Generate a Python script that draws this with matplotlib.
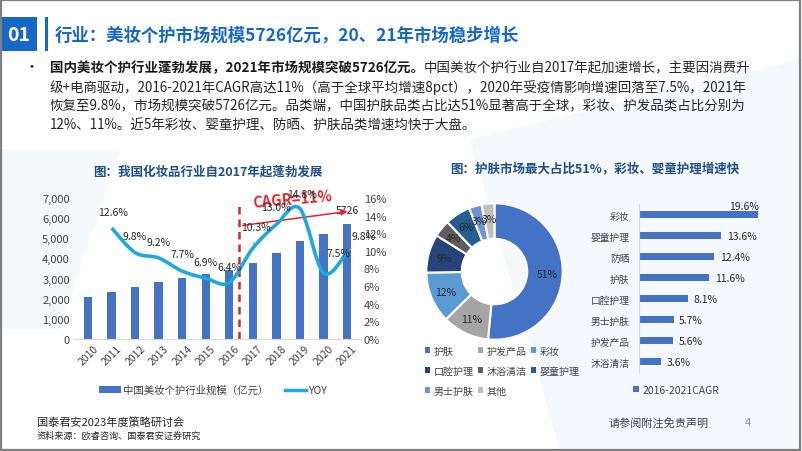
import numpy as np
import matplotlib
matplotlib.use("Agg")
import matplotlib.pyplot as plt
from matplotlib.path import Path
from matplotlib.patches import PathPatch, Patch, Rectangle, Polygon
from matplotlib.lines import Line2D

plt.rcParams['font.family'] = ['Noto Sans CJK SC', 'DejaVu Sans']
plt.rcParams['axes.unicode_minus'] = False

# 数据：左图 市场规模 + YOY
years = ['2010', '2011', '2012', '2013', '2014', '2015', '2016', '2017', '2018', '2019', '2020', '2021']
market_size = [2080, 2340, 2570, 2810, 3020, 3230, 3440, 3790, 4280, 4890, 5210, 5726]
yoy = [None, 12.6, 9.8, 9.2, 7.7, 6.9, 6.4, 10.3, 13.0, 14.8, 7.5, 9.8]

# 数据：中图 品类占比
pie_labels = ['护肤', '护发产品', '彩妆', '口腔护理', '沐浴清洁', '婴童护理', '男士护肤', '其他']
pie_values = [51, 11, 12, 9, 4, 6, 3, 3]
pie_colors = ['#4472c4', '#a5a5a5', '#5b9bd5', '#264478', '#5e5e5e', '#255e91', '#6f93d6', '#c0c0c0']

# 数据：右图 2016-2021 CAGR
cagr_cats = ['彩妆', '婴童护理', '防晒', '护肤', '口腔护理', '男士护肤', '护发产品', '沐浴清洁']
cagr_vals = [19.6, 13.6, 12.4, 11.6, 8.1, 5.7, 5.6, 3.6]

W, H = 802, 452
BLUE = '#4472c4'
LINE = '#1fa8e0'
TXT = '#404040'


def fx(x):
    return x / W


def fy(y):
    return 1 - y / H


fig = plt.figure(figsize=(W / 100, H / 100), dpi=100)
fig.patch.set_facecolor('white')

# 淡蓝色背景块
fig.patches.append(Polygon([(fx(470), fy(140)), (fx(802), fy(60)), (fx(802), fy(452)), (fx(560), fy(452))],
                           closed=True, transform=fig.transFigure, facecolor='#f5f9fd', edgecolor='none',
                           zorder=-5))
fig.patches.append(Polygon([(fx(0), fy(150)), (fx(120), fy(150)), (fx(60), fy(330)), (fx(0), fy(330))],
                           closed=True, transform=fig.transFigure, facecolor='#f7fafd', edgecolor='none',
                           zorder=-5))

# 页眉
fig.patches.append(Rectangle((fx(0), fy(52)), fx(37), 34 / H, transform=fig.transFigure,
                             facecolor='#1668c6', edgecolor='none'))
fig.patches.append(Rectangle((fx(44.5), fy(52)), fx(3.5), 34 / H, transform=fig.transFigure,
                             facecolor='#1668c6', edgecolor='none'))
fig.text(fx(18.5), fy(35.5), '01', color='white', fontsize=14, fontweight='bold', ha='center', va='center')
fig.text(fx(55), fy(36), '行业：美妆个护市场规模5726亿元，20、21年市场稳步增长', color='#1668c6',
         fontsize=12.5, fontweight='bold', ha='left', va='center')

# 正文
fs_body = 9.7
fig.text(fx(32), fy(68), '•', fontsize=10, color='#262626', ha='center', va='center')
t1 = fig.text(fx(50), fy(68), '国内美妆个护行业蓬勃发展，2021年市场规模突破5726亿元。', fontsize=fs_body,
              fontweight='bold', color='#1a1a1a', ha='left', va='center')
bb = t1.get_window_extent(fig.canvas.get_renderer())
fig.text(bb.x1 / fig.bbox.width, fy(68), '中国美妆个护行业自2017年起加速增长，主要因消费升', fontsize=fs_body,
         color='#262626', ha='left', va='center')
body = ['级+电商驱动，2016-2021年CAGR高达11%（高于全球平均增速8pct），2020年受疫情影响增速回落至7.5%，2021年',
        '恢复至9.8%，市场规模突破5726亿元。品类端，中国护肤品类占比达51%显著高于全球，彩妆、护发品类占比分别为',
        '12%、11%。近5年彩妆、婴童护理、防晒、护肤品类增速均快于大盘。']
for i, line in enumerate(body):
    fig.text(fx(50), fy(87.5 + 19 * i), line, fontsize=fs_body, color='#262626', ha='left', va='center')

# ---------- 左图 ----------
ax1 = fig.add_axes([fx(74), fy(340), fx(287), 141 / H])
ax1.patch.set_alpha(0)
x = np.arange(len(years))
bars = ax1.bar(x, market_size, width=0.36, color=BLUE, zorder=2)
ax1.set_xlim(-0.6, len(years) - 0.4)
ax1.set_ylim(0, 7000)
ax1.set_yticks(range(0, 7001, 1000))
ax1.set_yticklabels([f'{v:,}' for v in range(0, 7001, 1000)], fontsize=8, color=TXT)
ax1.set_xticks(x)
ax1.set_xticklabels(years, rotation=45, fontsize=7.5, color=TXT)
ax1.tick_params(length=0, pad=3)
for s in ['top', 'right', 'left']:
    ax1.spines[s].set_visible(False)
ax1.spines['bottom'].set_color('#d9d9d9')
ax1.annotate(f'{market_size[-1]}', xy=(x[-1], market_size[-1]), xytext=(0, 10), textcoords='offset points',
             ha='center', va='center', fontsize=7.5, color='#262626')

ax2 = ax1.twinx()
ax2.set_ylim(0, 16)
ax2.set_yticks(range(0, 17, 2))
ax2.set_yticklabels([f'{v}%' for v in range(0, 17, 2)], fontsize=8, color=TXT)
ax2.tick_params(length=0, pad=2)
for s in ax2.spines.values():
    s.set_visible(False)

# 平滑曲线（Catmull-Rom 转贝塞尔）
xs = [i for i, v in enumerate(yoy) if v is not None]
ys = [v for v in yoy if v is not None]
verts = [(xs[0], ys[0])]
codes = [Path.MOVETO]
n = len(xs)
for i in range(n - 1):
    p0 = (xs[i - 1], ys[i - 1]) if i > 0 else (xs[i], ys[i])
    p1 = (xs[i], ys[i])
    p2 = (xs[i + 1], ys[i + 1])
    p3 = (xs[i + 2], ys[i + 2]) if i + 2 < n else p2
    c1 = (p1[0] + (p2[0] - p0[0]) / 6, p1[1] + (p2[1] - p0[1]) / 6)
    c2 = (p2[0] - (p3[0] - p1[0]) / 6, p2[1] - (p3[1] - p1[1]) / 6)
    verts += [c1, c2, p2]
    codes += [Path.CURVE4] * 3
ax2.add_patch(PathPatch(Path(verts, codes), fill=False, edgecolor=LINE, lw=2.6, zorder=3))

# YOY 标签偏移（像素）
offsets = {1: (1, 16), 2: (-1, 17), 3: (0, 16), 4: (0, 17), 5: (0, 16), 6: (0, 16),
           7: (3, 21), 8: (0, 17), 9: (2, 15), 10: (15, 20), 11: (17, 17)}
for xi, yi in zip(xs, ys):
    dx, dy = offsets[xi]
    arrow = None
    if xi in (7, 11):
        arrow = dict(arrowstyle='-', color='#a6a6a6', lw=0.7, shrinkA=5, shrinkB=3)
    ax2.annotate(f'{yi:.1f}%', xy=(xi, yi), xytext=(dx * 0.72, dy * 0.72), textcoords='offset points',
                 ha='center', va='center', fontsize=7.5, color='#262626', arrowprops=arrow, zorder=4)

# CAGR 标注
div_x = 6.4
ax1.plot([div_x, div_x], [0, 6800], ls=(0, (3, 2)), color='#d02a2a', lw=1.8, zorder=4)
ax1.annotate('', xy=(11.15, 6350), xytext=(div_x + 0.05, 5620),
             arrowprops=dict(arrowstyle='-|>', color='#e0262a', lw=1.1, mutation_scale=9), zorder=4)
ax1.text(8.7, 6950, 'CAGR=11%', color='#e0262a', fontsize=10.5, fontweight='bold', ha='center', va='center',
         rotation=5, zorder=5)

fig.text(fx(208), fy(172), '图：我国化妆品行业自2017年起蓬勃发展', fontsize=9, fontweight='bold',
         color='#1f4e89', ha='center', va='center')

fig.legend([Patch(facecolor=BLUE), Line2D([], [], color=LINE, lw=2.5)],
           ['中国美妆个护行业规模（亿元）', 'YOY'], loc='center', bbox_to_anchor=(fx(213), fy(391)),
           ncol=2, frameon=False, fontsize=7.5, handlelength=2.1, handleheight=0.55, handletextpad=0.2,
           columnspacing=1.6, labelcolor='#404040')

# ---------- 中图：环形图 ----------
axp = fig.add_axes([fx(419.5), fy(347.5), fx(150), 150 / H])
axp.pie(pie_values, colors=pie_colors, startangle=90, counterclock=False, radius=1,
        wedgeprops=dict(width=0.52, edgecolor='white', linewidth=1.5),
        autopct='%d%%', pctdistance=0.77, textprops=dict(fontsize=7.5, color='#262626'))
axp.set_xlim(-1.1, 1.1)
axp.set_ylim(-1.1, 1.1)
axp.set_aspect('equal')
axp.axis('off')

order = [0, 3, 6, 1, 4, 7, 2, 5]
fig.legend([Patch(facecolor=pie_colors[i]) for i in order], [pie_labels[i] for i in order],
           loc='center', bbox_to_anchor=(fx(502), fy(372)), ncol=3, frameon=False, fontsize=7.2,
           handlelength=0.55, handleheight=0.55, handletextpad=0.35, columnspacing=0.4,
           labelspacing=1.0, labelcolor='#404040')

# ---------- 右图：CAGR 横向条形 ----------
ax3 = fig.add_axes([fx(639), fy(373.2), fx(151), 168 / H])
ax3.patch.set_alpha(0)
yy = np.arange(len(cagr_cats))
ax3.barh(yy, cagr_vals, height=0.33, color=BLUE)
ax3.set_ylim(len(cagr_cats) - 0.5, -0.5)
ax3.set_xlim(0, 24.9)
ax3.set_yticks(yy)
ax3.set_yticklabels(cagr_cats, fontsize=7, color=TXT)
ax3.set_xticks([])
ax3.tick_params(length=0, pad=7)
for s in ['top', 'right', 'bottom']:
    ax3.spines[s].set_visible(False)
ax3.spines['left'].set_color('#d9d9d9')
for i, v in enumerate(cagr_vals):
    if i == 0:
        ax3.annotate(f'{v}%', xy=(v, i), xytext=(1, 6), textcoords='offset points',
                     ha='right', va='center', fontsize=7.5, color='#262626')
    else:
        ax3.annotate(f'{v}%', xy=(v, i), xytext=(4, 0), textcoords='offset points',
                     ha='left', va='center', fontsize=7.5, color='#262626')

fig.legend([Patch(facecolor=BLUE)], ['2016-2021CAGR'], loc='center', bbox_to_anchor=(fx(676), fy(391)),
           frameon=False, fontsize=7.5, handlelength=0.55, handleheight=0.55, handletextpad=0.35,
           labelcolor='#404040')

fig.text(fx(594.5), fy(169), '图：护肤市场最大占比51%，彩妆、婴童护理增速快', fontsize=9, fontweight='bold',
         color='#1f4e89', ha='center', va='center')

# 页脚
fig.text(fx(37), fy(423), '国泰君安2023年度策略研讨会', fontsize=8, color='#262626', ha='left', va='center')
fig.text(fx(37), fy(436.5), '资料来源：欧睿咨询、国泰君安证券研究', fontsize=6.6, color='#262626', ha='left', va='center')
fig.text(fx(609), fy(423), '请参阅附注免责声明', fontsize=8, color='#404040', ha='left', va='center')
fig.text(fx(748), fy(423), '4', fontsize=8, color='#8c8c8c', ha='center', va='center')

# 外框
fig.patches.append(Rectangle((0.0015, 0.003), 0.996, 0.994, transform=fig.transFigure,
                             facecolor='none', edgecolor='#7f7f7f', lw=1.6))

fig.savefig('out.png', dpi=100)
